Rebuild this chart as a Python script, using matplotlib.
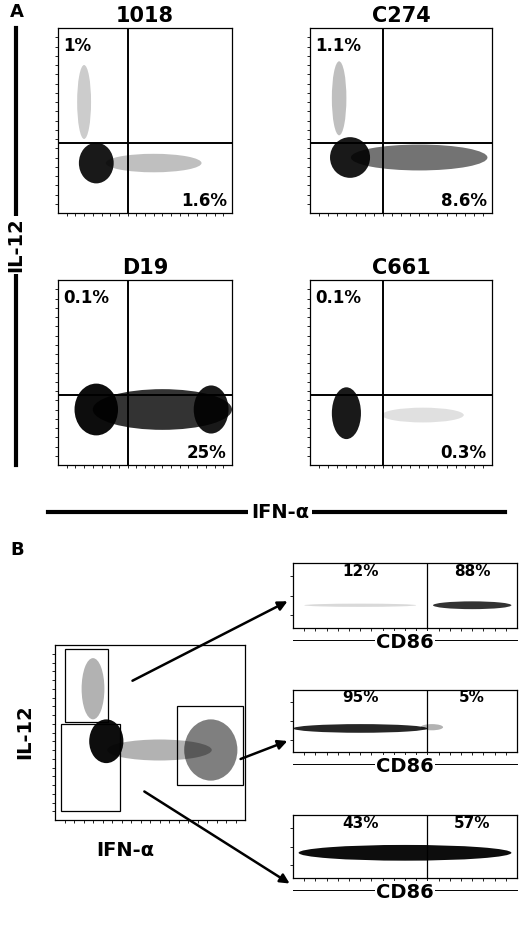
import matplotlib
matplotlib.use("Agg")
import matplotlib.pyplot as plt
from matplotlib.patches import Ellipse, Rectangle

W, H = 520, 941
fig = plt.figure(figsize=(W/100, H/100), dpi=100)

def ax_px(x0, y0, x1, y1):
    return fig.add_axes([x0/W, 1-y1/H, (x1-x0)/W, (y1-y0)/H])

def fig_txt(x, y, s, **kw):
    fig.text(x/W, 1-y/H, s, **kw)

def style(ax, n=19):
    ax.set_xlim(0, 1); ax.set_ylim(0, 1)
    ticks = [0.05,0.1,0.15,0.2,0.25,0.3,0.35,0.4,0.45,0.5,0.55,0.6,0.65,0.7,0.75,0.8,0.85,0.9,0.95]
    ax.set_xticks(ticks); ax.set_yticks(ticks if n == 19 else [0.2,0.5,0.8])
    ax.set_xticklabels([]); ax.set_yticklabels([])
    ax.tick_params(direction='out', length=2, width=0.6)
    for s in ax.spines.values(): s.set_linewidth(0.9)

# Panel A data
names = ["1018", "C274", "D19", "C661"]
ul_pct = ["1%", "1.1%", "0.1%", "0.1%"]
lr_pct = ["1.6%", "8.6%", "25%", "0.3%"]
# populations: (cx, cy, w, h, alpha)
blobs = [
    [(0.22,0.27,0.2,0.22,0.9),(0.55,0.27,0.55,0.1,0.25),(0.15,0.6,0.08,0.4,0.2)],
    [(0.22,0.3,0.22,0.22,0.9),(0.6,0.3,0.75,0.14,0.55),(0.16,0.62,0.08,0.4,0.25)],
    [(0.22,0.3,0.25,0.28,0.95),(0.6,0.3,0.8,0.22,0.8),(0.88,0.3,0.2,0.26,0.9)],
    [(0.2,0.28,0.16,0.28,0.9),(0.62,0.27,0.45,0.08,0.12)],
]
boxes = [(58,28,232,213),(310,28,492,213),(58,280,232,465),(310,280,492,465)]
for nm, u, l, bl, b in zip(names, ul_pct, lr_pct, blobs, boxes):
    ax = ax_px(*b); style(ax)
    for cx,cy,w,h,a in bl:
        ax.add_patch(Ellipse((cx,cy),w,h,color='black',alpha=a,lw=0))
    ax.axvline(0.4, color='black', lw=1.4); ax.axhline(0.38, color='black', lw=1.4)
    ax.text(0.03,0.95,u,transform=ax.transAxes,fontsize=12,fontweight='bold',va='top')
    ax.text(0.97,0.04,l,transform=ax.transAxes,fontsize=12,fontweight='bold',ha='right')
    ax.set_title(nm, fontsize=15, fontweight='bold', pad=4)

fig_txt(10,12,"A",fontsize=13,fontweight='bold',va='center')
fig.add_artist(plt.Line2D([16/W,16/W],[1-28/H,1-465/H],color='black',lw=3))
fig_txt(16,245,"IL-12",fontsize=14,fontweight='bold',rotation=90,ha='center',va='center',
        bbox=dict(fc='white',ec='none',pad=1))
fig.add_artist(plt.Line2D([48/W,505/W],[1-512/H,1-512/H],color='black',lw=3))
fig_txt(280,512,"IFN-α",fontsize=14,fontweight='bold',ha='center',va='center',
        bbox=dict(fc='white',ec='none',pad=2))

# Panel B
fig_txt(10,550,"B",fontsize=13,fontweight='bold',va='center')
axm = ax_px(55,645,245,820); style(axm)
for cx,cy,w,h,a in [(0.27,0.45,0.18,0.25,0.95),(0.55,0.4,0.55,0.12,0.3),(0.82,0.4,0.28,0.35,0.5),(0.2,0.75,0.12,0.35,0.3)]:
    axm.add_patch(Ellipse((cx,cy),w,h,color='black',alpha=a,lw=0))
for r in [(0.05,0.56,0.23,0.42),(0.03,0.05,0.31,0.5),(0.64,0.2,0.35,0.45)]:
    axm.add_patch(Rectangle(r[:2],r[2],r[3],fill=False,lw=0.9))
fig_txt(25,732,"IL-12",fontsize=14,fontweight='bold',rotation=90,ha='center',va='center')
fig_txt(125,850,"IFN-α",fontsize=14,fontweight='bold',ha='center',va='center')

small = [(293,563,517,628,"12%","88%",[(0.3,0.35,0.5,0.05,0.15),(0.8,0.35,0.35,0.12,0.8)]),
         (293,690,517,752,"95%","5%",[(0.3,0.38,0.6,0.14,0.85),(0.62,0.4,0.1,0.1,0.3)]),
         (293,815,517,878,"43%","57%",[(0.5,0.4,0.95,0.25,0.95)])]
for x0,y0,x1,y1,a,b,bl in small:
    ax = ax_px(x0,y0,x1,y1); style(ax, 3)
    for cx,cy,w,h,al in bl:
        ax.add_patch(Ellipse((cx,cy),w,h,color='black',alpha=al,lw=0))
    ax.axvline(0.6,color='black',lw=0.9)
    ax.text(0.3,0.8,a,transform=ax.transAxes,fontsize=11,fontweight='bold',ha='center')
    ax.text(0.8,0.8,b,transform=ax.transAxes,fontsize=11,fontweight='bold',ha='center')
    fig.add_artist(plt.Line2D([x0/W,x1/W],[1-(y1+12)/H]*2,color='black',lw=0.7))
    fig_txt((x0+x1)/2,y1+14,"CD86",fontsize=14,fontweight='bold',ha='center',va='center',
            bbox=dict(fc='white',ec='none',pad=1))

for s,e in [((130,682),(290,600)),((238,760),(290,740)),((142,790),(292,885))]:
    fig.add_artist(matplotlib.patches.FancyArrowPatch((s[0]/W,1-s[1]/H),(e[0]/W,1-e[1]/H),
        transform=fig.transFigure,arrowstyle='-|>',mutation_scale=14,lw=1.8,color='black'))

fig.savefig("out.png", dpi=100)
